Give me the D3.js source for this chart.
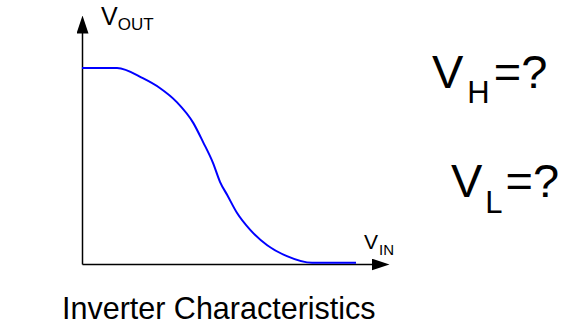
<!DOCTYPE html>
<html>
<head>
<meta charset="utf-8">
<script src="https://cdn.jsdelivr.net/npm/d3@7"></script>
<style>
  html, body { margin: 0; padding: 0; background: #fff; }
  svg { display: block; font-family: "Liberation Sans", Arial, sans-serif; }
</style>
</head>
<body>
<svg id="chart" width="578" height="331"></svg>
<script>
// Inverter transfer curve: output voltage against input voltage (VDD = 5)
const vin  = [0, 0.64, 1.11, 1.42, 1.73, 2.03, 2.21, 2.39, 2.52, 2.65, 2.83, 3.07, 3.38, 3.74, 4.20, 5.0];
const vout = [5, 5,    4.74, 4.49, 4.13, 3.60, 3.11, 2.58, 2.09, 1.76, 1.30, 0.87, 0.48, 0.20, 0.03, 0.03];

const axisLabels = [
  { main: "V", sub: "OUT" },
  { main: "V", sub: "IN" }
];
const questions = [
  { main: "V", sub: "H", tail: "=?" },
  { main: "V", sub: "L", tail: "=?" }
];
const title = "Inverter Characteristics";

const svg = d3.select("#chart");
svg.append("rect").attr("width", 578).attr("height", 331).attr("fill", "#fff");

const x = d3.scaleLinear().domain([0, 5]).range([82, 356]);
const y = d3.scaleLinear().domain([0, 5]).range([264, 68]);

// arrowhead marker for both axes
const defs = svg.append("defs");
defs.append("marker")
  .attr("id", "arrow")
  .attr("viewBox", "0 0 18 12")
  .attr("refX", 1).attr("refY", 6)
  .attr("markerWidth", 18).attr("markerHeight", 12)
  .attr("markerUnits", "userSpaceOnUse")
  .attr("orient", "auto")
  .append("path")
  .attr("d", "M0,0 L18,6 L0,12 Z")
  .attr("fill", "#000");

const xEnd = x.invert(372);   // where the VIN arrow begins
const yEnd = y.invert(32);    // where the VOUT arrow begins

// axes: plain domain lines, no ticks
const gx = svg.append("g").attr("transform", `translate(0,${y(0)})`)
  .call(d3.axisBottom(x.copy().domain([0, xEnd]).range([x(0), 372])).ticks(0).tickSize(0).tickSizeOuter(0));
gx.select(".domain").attr("stroke", "#000").attr("stroke-width", 1.5).attr("marker-end", "url(#arrow)");
gx.selectAll("text").remove();

const gy = svg.append("g").attr("transform", `translate(${x(0)},0)`)
  .call(d3.axisLeft(y.copy().domain([0, yEnd]).range([y(0), 32])).ticks(0).tickSize(0).tickSizeOuter(0));
gy.select(".domain").attr("stroke", "#000").attr("stroke-width", 1.5).attr("marker-end", "url(#arrow)");
gy.selectAll("text").remove();

// transfer curve
const pts = vin.map((v, i) => [v, vout[i]]);
svg.append("path")
  .datum(pts)
  .attr("fill", "none")
  .attr("stroke", "#0000ff")
  .attr("stroke-width", 2)
  .attr("d", d3.line().x(d => x(d[0])).y(d => y(d[1])).curve(d3.curveMonotoneX));

// subscripted label helper
function label(g, px, py, size, subSize, subDy, gap, d) {
  const t = g.append("text").attr("x", px).attr("y", py).attr("font-size", size).attr("fill", "#000");
  t.append("tspan").text(d.main);
  t.append("tspan").attr("font-size", subSize).attr("dx", gap).attr("dy", subDy).text(d.sub);
  if (d.tail) t.append("tspan").attr("dx", gap).attr("dy", -subDy).text(d.tail);
}

label(svg, 101, 25, 25, 17, 5, 0, axisLabels[0]);
label(svg, 364, 249, 21, 15, 6, 1, axisLabels[1]);

label(svg, 432, 88, 47, 31, 15, 4, questions[0]);
label(svg, 451, 197, 47, 31, 16, 3, questions[1]);

svg.append("text")
  .attr("x", 62).attr("y", 319)
  .attr("font-size", 30.5)
  .attr("fill", "#000")
  .text(title);
</script>
</body>
</html>
